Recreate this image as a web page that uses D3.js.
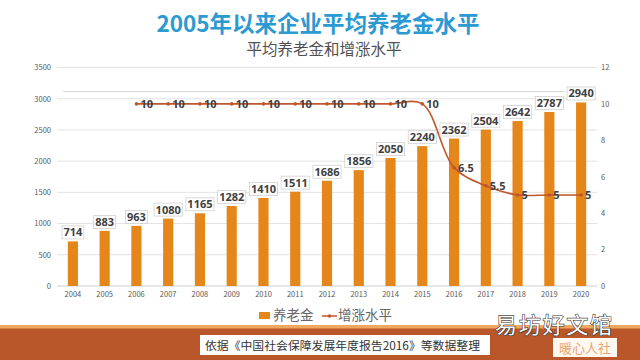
<!DOCTYPE html>
<html><head><meta charset="utf-8">
<script src="https://cdn.jsdelivr.net/npm/d3@7"></script>
<style>body{margin:0;background:#fff}svg{display:block}</style>
</head><body>
<svg id="c" width="640" height="360"></svg>
<script>
const years = ["2004","2005","2006","2007","2008","2009","2010","2011","2012","2013","2014","2015","2016","2017","2018","2019","2020"];
const pension = [714,883,963,1080,1165,1282,1410,1511,1686,1856,2050,2240,2362,2504,2642,2787,2940];
const growthYears = ["2006","2007","2008","2009","2010","2011","2012","2013","2014","2015","2016","2017","2018","2019","2020"];
const growth = [10,10,10,10,10,10,10,10,10,10,6.5,5.5,5,5,5];
const leftTicks = [0,500,1000,1500,2000,2500,3000,3500];
const rightTicks = [0,2,4,6,8,10,12];

(function(){
const svg = d3.select("#c");
const font = "'Noto Sans CJK SC', 'Noto Sans', sans-serif";
const W=640,H=360;
const pTop=67.5,pBottom=286,pLeft=57,pRight=597;

const x = d3.scaleBand().domain(years).range([pLeft,pRight]).paddingInner(0.68).paddingOuter(0.34);
const yL = d3.scaleLinear().domain([0,3500]).range([pBottom,pTop]);
const yR = d3.scaleLinear().domain([0,12]).range([pBottom,pTop]);
const cx = d => x(d)+x.bandwidth()/2;

// title
svg.append("text").attr("x",318).attr("y",32).attr("text-anchor","middle")
  .attr("font-family",font).attr("font-weight","bold").attr("font-size",22.5)
  .attr("fill","#2B9AD3").text("2005年以来企业平均养老金水平");
svg.append("text").attr("x",324).attr("y",55).attr("text-anchor","middle")
  .attr("font-family",font).attr("font-size",15.5)
  .attr("fill","#505050").text("平均养老金和增涨水平");

// gridlines
svg.append("g").selectAll("line").data(leftTicks).join("line")
  .attr("x1",pLeft).attr("x2",pRight).attr("y1",d=>yL(d)).attr("y2",d=>yL(d))
  .attr("stroke",d=>d===0?"#cfcfcf":"#e2e2e2").attr("stroke-width",1);
// stray line
svg.append("line").attr("x1",63).attr("x2",565).attr("y1",91.5).attr("y2",91.5).attr("stroke","#d6d6d6");

const fmt = d3.format("d");
// left axis
const gl = svg.append("g").attr("transform",`translate(${pLeft-6},0)`)
  .call(d3.axisLeft(yL).tickValues(leftTicks).tickFormat(fmt).tickSize(0).tickPadding(0));
gl.select(".domain").remove();
gl.selectAll("text").attr("font-family",font).attr("font-size",7.5).attr("fill","#595959");
// right axis
const gr = svg.append("g").attr("transform",`translate(${pRight+4},0)`)
  .call(d3.axisRight(yR).tickValues(rightTicks).tickFormat(fmt).tickSize(0).tickPadding(0));
gr.select(".domain").remove();
gr.selectAll("text").attr("font-family",font).attr("font-size",7.5).attr("fill","#595959");
// x axis
const gx = svg.append("g").attr("transform",`translate(0,${pBottom+4})`)
  .call(d3.axisBottom(x).tickSize(0).tickPadding(2));
gx.select(".domain").remove();
gx.selectAll("text").attr("font-family",font).attr("font-size",7.5).attr("fill","#595959");

// bars
svg.append("g").selectAll("rect").data(years).join("rect")
  .attr("x",d=>x(d)).attr("width",x.bandwidth())
  .attr("y",(d,i)=>yL(pension[i])).attr("height",(d,i)=>pBottom-yL(pension[i]))
  .attr("fill","#E5861A");

// line
const pts = growthYears.map((y,i)=>[cx(y),yR(growth[i])]);
svg.append("path").attr("d",d3.line().curve(d3.curveCatmullRom.alpha(0.5))(pts))
  .attr("fill","none").attr("stroke","#C0562B").attr("stroke-width",1.6);
svg.append("g").selectAll("circle").data(pts).join("circle")
  .attr("cx",d=>d[0]).attr("cy",d=>d[1]).attr("r",1.8).attr("fill","#C0562B");

// bar labels
const bl = svg.append("g").selectAll("g").data(years).join("g")
  .attr("transform",(d,i)=>`translate(${cx(d)},${yL(pension[i])-9})`);
const rects = bl.append("rect").attr("y",-6.5).attr("height",13)
  .attr("fill","#fff").attr("stroke","#d0d0d0").attr("stroke-width",0.8);
const texts = bl.append("text").attr("text-anchor","middle").attr("dy","0.36em")
  .attr("font-family","'Open Sans', sans-serif").attr("font-weight","bold").attr("font-size",11)
  .attr("fill","#404040").text((d,i)=>pension[i]);
texts.each(function(d,i){
  const w = this.getComputedTextLength()+3;
  d3.select(rects.nodes()[i]).attr("x",-w/2).attr("width",w);
});

// line labels
svg.append("g").selectAll("text").data(growthYears).join("text")
  .attr("x",d=>cx(d)+4).attr("y",(d,i)=>yR(growth[i])).attr("dy","0.36em")
  .attr("font-family","'Open Sans', sans-serif").attr("font-weight","bold").attr("font-size",11)
  .attr("fill","#404040").text((d,i)=>growth[i]);

// legend
const lg = svg.append("g").attr("font-family",font).attr("font-size",13.5).attr("fill","#666");
lg.append("rect").attr("x",259).attr("y",312).attr("width",11).attr("height",7).attr("fill","#E5861A");
lg.append("text").attr("x",273).attr("y",320).text("养老金");
lg.append("line").attr("x1",322).attr("x2",337).attr("y1",316).attr("y2",316).attr("stroke","#C0562B").attr("stroke-width",1.5);
lg.append("circle").attr("cx",329.5).attr("cy",316).attr("r",1.8).attr("fill","#C0562B");
lg.append("text").attr("x",338).attr("y",320).text("增涨水平");

// footer
svg.append("rect").attr("x",0).attr("y",325).attr("width",W).attr("height",4).attr("fill","#F0A860");
svg.append("rect").attr("x",0).attr("y",328.5).attr("width",W).attr("height",31.5).attr("fill","#B9572B");
svg.append("rect").attr("x",200).attr("y",335).attr("width",290).attr("height",20).attr("fill","#fff");
svg.append("text").attr("x",205).attr("y",350).attr("textLength",275).attr("lengthAdjust","spacingAndGlyphs")
  .attr("font-family",font).attr("font-size",11.5).attr("fill","#333")
  .text("依据《中国社会保障发展年度报告2016》等数据整理");
svg.append("rect").attr("x",553).attr("y",338).attr("width",64).attr("height",19).attr("fill","#fff8f0");
svg.append("text").attr("x",585).attr("y",353).attr("text-anchor","middle")
  .attr("font-family",font).attr("font-size",13).attr("fill","#E9A677").text("暖心人社");
svg.append("text").attr("x",553.5).attr("y",333).attr("text-anchor","middle").attr("textLength",117)
  .attr("font-family",font).attr("font-size",22).attr("fill","#fff")
  .attr("stroke","#333").attr("stroke-width",1.2).attr("paint-order","stroke").text("易坊好文馆");
})();
</script>
</body></html>
